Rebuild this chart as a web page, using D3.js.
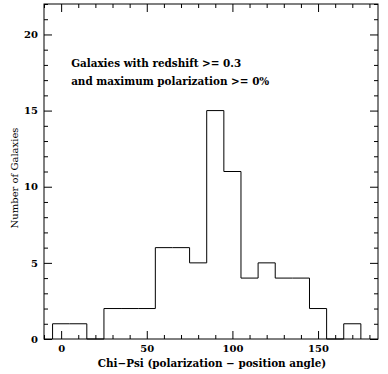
<!DOCTYPE html>
<html>
<head>
<meta charset="utf-8">
<script src="https://cdn.jsdelivr.net/npm/d3@7"></script>
<style>
  body { margin: 0; background: #fff; }
  svg text { font-family: "DejaVu Serif", serif; fill: #000; }
  .domain { display: none; }
</style>
</head>
<body>
<div id="chart"></div>
<script>
// histogram bins (centre of each 10 degree bin) and galaxy counts
const binCenters = [0, 10, 20, 30, 40, 50, 60, 70, 80, 90, 100, 110, 120, 130, 140, 150, 160, 170];
const counts     = [1, 1, 0, 2, 2, 2, 6, 6, 5, 15, 11, 4, 5, 4, 4, 2, 0, 1];
const binWidth = 10;

const xMajor = [0, 50, 100, 150];
const yMajor = [0, 5, 10, 15, 20];
const notes = ["Galaxies with redshift >= 0.3", "and maximum polarization >= 0%"];

const margin = {top: 4, right: 10, bottom: 35, left: 44},
  width = 388 - margin.left - margin.right,
  height = 374 - margin.top - margin.bottom;

const svg = d3.select("#chart")
  .append("svg")
    .attr("width", width + margin.left + margin.right)
    .attr("height", height + margin.top + margin.bottom)
  .append("g")
    .attr("transform", `translate(${margin.left},${margin.top})`);

const x = d3.scaleLinear().domain([-10, 185]).range([0, width]);
const y = d3.scaleLinear().domain([0, 22]).range([height, 0]);

const xMinor = d3.range(-10, 186, 10).filter(v => !xMajor.includes(v));
const yMinor = d3.range(0, 23, 1).filter(v => !yMajor.includes(v));

// ticks on all four sides, pointing inward
function ticks(axisFn, scale, values, size, transform, labels) {
  const g = svg.append("g")
    .attr("transform", transform)
    .call(axisFn(scale).tickValues(values).tickSize(size).tickPadding(6)
      .tickFormat(labels ? d3.format("d") : ""));
  g.selectAll("line").attr("stroke", "#000").attr("stroke-width", 1);
  g.selectAll("text").style("font-size", "10px").style("font-weight", "bold");
  return g;
}
ticks(d3.axisBottom, x, xMajor, -8, `translate(0,${height})`, true);
ticks(d3.axisBottom, x, xMinor, -4, `translate(0,${height})`, false);
ticks(d3.axisTop, x, xMajor, -8, "translate(0,0)", false);
ticks(d3.axisTop, x, xMinor, -4, "translate(0,0)", false);
ticks(d3.axisLeft, y, yMajor, -8, "translate(0,0)", true);
ticks(d3.axisLeft, y, yMinor, -4, "translate(0,0)", false);
ticks(d3.axisRight, y, yMajor, -8, `translate(${width},0)`, false);
ticks(d3.axisRight, y, yMinor, -4, `translate(${width},0)`, false);

// frame
svg.append("rect")
  .attr("x", 0).attr("y", 0)
  .attr("width", width).attr("height", height)
  .attr("fill", "none").attr("stroke", "#000").attr("stroke-width", 1);

// step outline of the histogram
const pts = [[binCenters[0] - binWidth / 2, 0]];
binCenters.forEach((c, i) => {
  pts.push([c - binWidth / 2, counts[i]]);
  pts.push([c + binWidth / 2, counts[i]]);
});
pts.push([binCenters[binCenters.length - 1] + binWidth / 2, 0]);

svg.append("path")
  .datum(pts)
  .attr("fill", "none")
  .attr("stroke", "#000")
  .attr("stroke-width", 1)
  .attr("d", d3.line().x(d => x(d[0])).y(d => y(d[1])));

// annotation
svg.selectAll(".note")
  .data(notes)
  .join("text")
    .attr("class", "note")
    .attr("x", x(0) + 10)
    .attr("y", (d, i) => 63 + i * 18)
    .style("font-size", "10.4px")
    .style("font-weight", "bold")
    .text(d => d);

// axis labels
svg.append("text")
  .attr("x", width / 2 + 1)
  .attr("y", height + 28)
  .style("text-anchor", "middle")
  .style("font-size", "10.4px")
  .style("font-weight", "bold")
  .text("Chi\u2212Psi (polarization \u2212 position angle)");

svg.append("text")
  .attr("transform", "rotate(-90)")
  .attr("x", -178 + margin.top)
  .attr("y", 18 - margin.left)
  .style("text-anchor", "middle")
  .style("font-size", "10px")
  .text("Number of Galaxies");
</script>
</body>
</html>
